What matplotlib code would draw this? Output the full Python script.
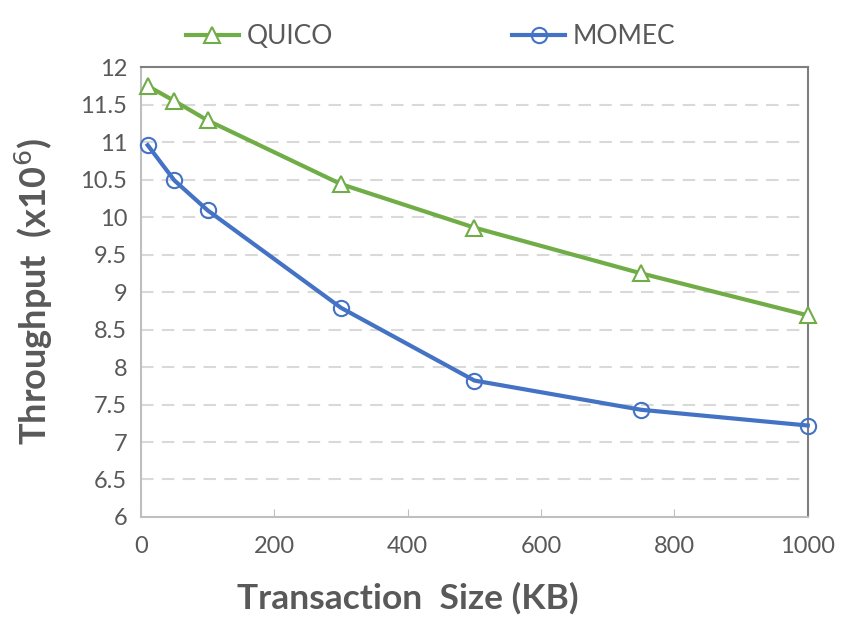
import matplotlib
matplotlib.use("Agg")
import matplotlib.pyplot as plt

# data
sizes = [10, 50, 100, 300, 500, 750, 1000]
quico = [11.75, 11.55, 11.29, 10.44, 9.86, 9.25, 8.69]
momec = [10.96, 10.49, 10.09, 8.79, 7.82, 7.43, 7.22]
yticks = [6, 6.5, 7, 7.5, 8, 8.5, 9, 9.5, 10, 10.5, 11, 11.5, 12]
ytick_labels = ["6", "6.5", "7", "7.5", "8", "8.5", "9", "9.5", "10", "10.5", "11", "11.5", "12"]
xticks = [0, 200, 400, 600, 800, 1000]

plt.rcParams["font.family"] = ["Lato", "DejaVu Sans"]
txt = "#595959"

fig = plt.figure(figsize=(8.53, 6.28), dpi=100)
ax = fig.add_axes([0.1653, 0.1768, 0.7817, 0.7162])

green = "#70ad47"
blue = "#4472c4"
ax.plot(sizes, quico, color=green, lw=3, marker="^", ms=11, mfc="white",
        mec=green, mew=1.5, label="QUICO", zorder=3, clip_on=False)
ax.plot(sizes, momec, color=blue, lw=3, marker="o", ms=11, mfc="none",
        mec=blue, mew=1.5, label="MOMEC", zorder=3, clip_on=False)

ax.set_xlim(0, 1000)
ax.set_ylim(6, 12)
ax.set_yticks(yticks)
ax.set_yticklabels(ytick_labels)
ax.set_xticks(xticks)
ax.tick_params(axis="y", length=0, labelsize=17, labelcolor=txt, pad=10)
ax.tick_params(axis="x", direction="in", length=6, color="#bfbfbf",
               labelsize=17, labelcolor=txt, pad=14)

for y in yticks[1:-1]:
    ax.axhline(y, color="#d9d9d9", lw=1.5, ls=(0, (6, 4)), zorder=1)

ax.spines["left"].set_color("#bfbfbf")
ax.spines["bottom"].set_color("#bfbfbf")
ax.spines["top"].set_color("#7f7f7f")
ax.spines["right"].set_color("#7f7f7f")
for s in ax.spines.values():
    s.set_linewidth(1.5)

ax.set_xlabel("Transaction  Size (KB)", fontsize=25.5, fontweight="bold",
              color=txt)
ax.xaxis.set_label_coords(0.40, -0.145)
ax.set_ylabel("Throughput  (x10$^6$)", fontsize=26, fontweight="bold",
              color=txt, labelpad=18)

leg = fig.legend(loc="upper center", bbox_to_anchor=(0.505, 1.0), ncol=2,
                 frameon=False, fontsize=19, columnspacing=6.8,
                 handlelength=2.0, handletextpad=0.3)
for t in leg.get_texts():
    t.set_color(txt)

fig.savefig("out.png", dpi=100)
